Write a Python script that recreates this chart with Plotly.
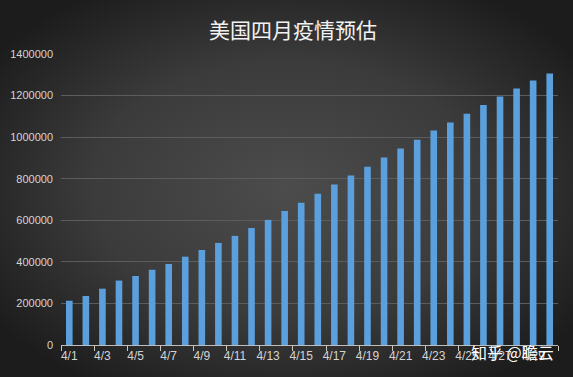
import base64
import plotly.graph_objects as go

dates = [f"4/{d}" for d in range(1, 31)]
cases = [213000, 236000, 271000, 310000, 332000, 362000, 390000, 425000, 457000, 491000,
         525000, 563000, 602000, 645000, 684000, 728000, 772000, 815000, 858000, 902000,
         945000, 988000, 1032000, 1070000, 1112000, 1155000, 1195000, 1234000, 1272000, 1306000]
y_ticks = [0, 200000, 400000, 600000, 800000, 1000000, 1200000, 1400000]
title_text = "美国四月疫情预估"
watermark = "知乎 @瞻云"

W, H = 573, 377
L, R, T, B = 61, 15, 54, 32
pw, ph = W - L - R, H - T - B

svg = f'''<svg xmlns="http://www.w3.org/2000/svg" width="{W}" height="{H}" viewBox="0 0 {W} {H}" preserveAspectRatio="none">
<defs><radialGradient id="g" cx="50%" cy="50%" r="62%" gradientUnits="objectBoundingBox">
<stop offset="0%" stop-color="#4c4c4c"/><stop offset="55%" stop-color="#3b3b3b"/><stop offset="100%" stop-color="#1c1c1c"/>
</radialGradient></defs><rect width="100%" height="100%" fill="url(#g)"/></svg>'''
bg_uri = "data:image/svg+xml;base64," + base64.b64encode(svg.encode()).decode()

fig = go.Figure()
fig.add_trace(go.Bar(
    x=dates, y=cases,
    marker=dict(color="#5b9fdc", line=dict(width=0)),
))

fig.update_layout(
    width=W, height=H,
    margin=dict(l=L, r=R, t=T, b=B, autoexpand=False),
    paper_bgcolor="#2a2a2a",
    plot_bgcolor="rgba(0,0,0,0)",
    bargap=0.6,
    showlegend=False,
    title=dict(text=title_text, x=293 / W, xref="container", y=1 - 31 / H, yref="container",
               xanchor="center", yanchor="middle", automargin=False,
               font=dict(family="Noto Sans CJK SC", size=21, color="#f2f2f2")),
    images=[dict(source=bg_uri, xref="paper", yref="paper",
                 x=-L / pw, y=1 + T / ph, sizex=W / pw, sizey=H / ph,
                 xanchor="left", yanchor="top", sizing="stretch", layer="below")],
    annotations=[dict(text=watermark, xref="paper", yref="paper",
                      x=(512 - L) / pw, y=(345 - 352) / ph, xanchor="center", yanchor="middle",
                      showarrow=False,
                      font=dict(family="Noto Sans CJK SC", size=16, color="#ffffff"))],
)

fig.update_xaxes(
    type="category", tickmode="linear", tick0=0, dtick=2, tickangle=0, automargin=False,
    tickson="boundaries", ticks="outside", ticklen=5, tickcolor="#cfc8b8",
    showline=True, linecolor="#bdbdbd", linewidth=1,
    showgrid=False,
    tickfont=dict(family="Liberation Sans", size=12, color="#d4d4d4"),
)
fig.update_yaxes(
    range=[0, 1400000], tickvals=y_ticks, ticktext=[str(v) for v in y_ticks],
    automargin=False, ticklabelstandoff=7,
    showgrid=True, gridcolor="#5c5c5c", gridwidth=1,
    zeroline=False, showline=False, ticks="",
    tickfont=dict(family="Liberation Sans", size=11, color="#d4d4d4"),
)

fig.write_html("out.html", config={"displayModeBar": False},
               post_script="document.body.style.margin='0';document.body.style.background='#1e1e1e';")
